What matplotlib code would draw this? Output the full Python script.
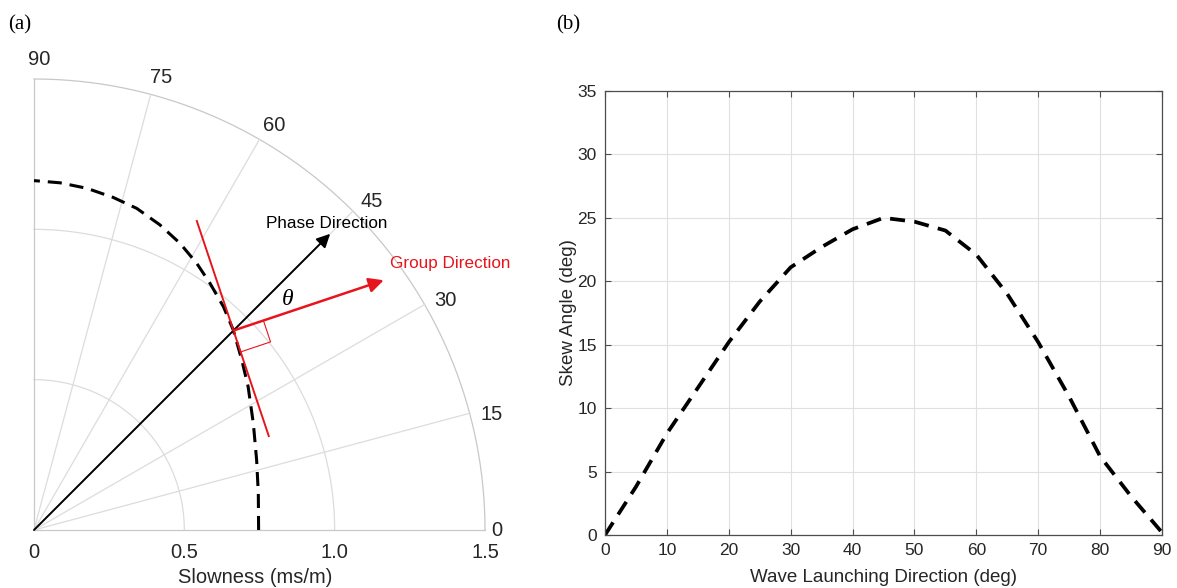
import matplotlib
matplotlib.use("Agg")

import matplotlib.pyplot as plt
import numpy as np

plt.rcParams["font.family"] = ["Liberation Sans", "DejaVu Sans"]

# (a) slowness curve, polar: angle (deg) vs slowness (ms/m)
slow_angle = [0, 9.3, 17.4, 25.9, 33.8, 39.3, 45.1, 49.7, 54.5, 58.6, 63.0, 67.6,
              72.3, 76.6, 81.2, 85.7, 90]
slow_value = [0.747, 0.756, 0.776, 0.811, 0.857, 0.893, 0.939, 0.974, 1.008, 1.039,
              1.070, 1.098, 1.123, 1.137, 1.150, 1.158, 1.162]
r_ticks = [0.5, 1.0, 1.5]
r_labels = ["0", "0.5", "1.0", "1.5"]
theta_ticks = [0, 15, 30, 45, 60, 75, 90]

phase_angle = 45.0      # deg
phase_len = 1.393
skew_at_phase = 26.5    # deg
group_len = 0.527

# (b) skew angle vs launching direction
launch_dir = [0, 5, 10, 15, 20, 25, 30, 35, 40, 45, 50, 55, 60, 65, 70, 75, 80, 85, 90]
skew_angle = [0, 3.8, 8.0, 11.6, 15.2, 18.4, 21.1, 22.7, 24.1, 25.0, 24.7, 24.0, 22.1,
              19.0, 15.2, 10.9, 6.2, 3.05, 0.2]

W, H = 1177, 588
fig = plt.figure(figsize=(W / 100, H / 100), dpi=100)
txt_c = "#262626"

# ---------------- panel (a) ----------------
ax = fig.add_axes([34 / W, (H - 530) / H, 451 / W, 451 / H])
ax.set_xlim(0, 1.5)
ax.set_ylim(0, 1.5)
ax.axis("off")

grid_c = "#dcdcdc"
t = np.linspace(0, np.pi / 2, 200)
for r in r_ticks:
    ax.plot(r * np.cos(t), r * np.sin(t), color=grid_c if r < 1.5 else "#c8c8c8",
            lw=0.9, clip_on=False)
for th in theta_ticks:
    a = np.deg2rad(th)
    ax.plot([0, 1.5 * np.cos(a)], [0, 1.5 * np.sin(a)],
            color="#c8c8c8" if th in (0, 90) else grid_c, lw=0.9, clip_on=False)
    lr = 1.57
    if th == 0:
        ax.text(1.52, 0.006, "0", ha="left", va="center_baseline", fontsize=14.5,
                color=txt_c)
    else:
        la = np.deg2rad(th - 0.6)
        ax.text(lr * np.cos(la), lr * np.sin(la), str(th), ha="center",
                va="center_baseline", fontsize=14.5, color=txt_c)
for i, lab in enumerate(r_labels):
    ax.text(0.5 * i, -0.068, lab, ha="center", va="center_baseline", fontsize=14.5,
            color=txt_c)
ax.text(0.735, -0.15, "Slowness (ms/m)", ha="center", va="center_baseline",
        fontsize=14.5, color=txt_c)

sa = np.deg2rad(slow_angle)
sv = np.asarray(slow_value)
ax.plot(sv * np.cos(sa), sv * np.sin(sa), color="black", lw=2.2,
        dashes=(4.6, 2.6), clip_on=False)

# phase direction arrow
pa = np.deg2rad(phase_angle)
ax.annotate("", xy=(phase_len * np.cos(pa), phase_len * np.sin(pa)), xytext=(0, 0),
            arrowprops=dict(arrowstyle="-|>", color="black", lw=1.4,
                            mutation_scale=20, shrinkA=0, shrinkB=0))
ax.text(0.975, 1.02, "Phase Direction", ha="center", va="center", fontsize=12.3)

# point on the slowness curve along phase direction
r_p = np.interp(phase_angle, slow_angle, slow_value)
px, py = r_p * np.cos(pa), r_p * np.sin(pa)

ga = np.deg2rad(phase_angle - skew_at_phase)
gdir = np.array([np.cos(ga), np.sin(ga)])
tdir = np.array([-np.sin(ga), np.cos(ga)])
ax.annotate("", xy=(px + group_len * gdir[0], py + group_len * gdir[1]), xytext=(px, py),
            arrowprops=dict(arrowstyle="-|>", color="#e8141b", lw=1.8,
                            mutation_scale=22, shrinkA=0, shrinkB=0))
ax.text(1.385, 0.885, "Group Direction", ha="center", va="center", fontsize=12.3,
        color="#e8141b")

# tangent (wavefront) line
ax.plot([px + 0.384 * tdir[0], px - 0.37 * tdir[0]],
        [py + 0.384 * tdir[1], py - 0.37 * tdir[1]], color="#e8141b", lw=1.4)

# right-angle marker
d1, d2 = 0.105, 0.075
c1 = np.array([px, py]) + d1 * gdir
c2 = c1 - d2 * tdir
c3 = np.array([px, py]) - d2 * tdir
ax.plot([c1[0], c2[0], c3[0]], [c1[1], c2[1], c3[1]], color="#e8141b", lw=0.8)

ax.text(0.845, 0.765, "\u03b8", ha="center", va="center", fontsize=17,
        family="Liberation Serif", style="italic")

fig.text(20 / W, 1 - 25 / H, "(a)", ha="center", va="center", fontsize=15,
         family="Liberation Serif")
fig.text(568 / W, 1 - 25 / H, "(b)", ha="center", va="center", fontsize=15,
         family="Liberation Serif")

# ---------------- panel (b) ----------------
bx = fig.add_axes([605 / W, (H - 535) / H, 557 / W, 444 / H])
bx.plot(launch_dir, skew_angle, color="black", lw=2.7, dashes=(4, 2.5))
bx.set_xlim(0, 90)
bx.set_ylim(0, 35)
bx.set_xticks(range(0, 91, 10))
bx.set_yticks(range(0, 36, 5))
bx.grid(True, color="#e0e0e0", lw=0.8)
bx.set_axisbelow(True)
for s in bx.spines.values():
    s.set_color("#4d4d4d")
    s.set_linewidth(0.9)
bx.tick_params(direction="in", top=True, right=True, length=4, color="#4d4d4d",
               labelsize=12.5, labelcolor=txt_c, pad=6)
bx.set_xlabel("Wave Launching Direction (deg)", fontsize=13.5, color=txt_c, labelpad=8)
bx.set_ylabel("Skew Angle (deg)", fontsize=13.5, color=txt_c, labelpad=0)

fig.savefig("out.png", dpi=100)
